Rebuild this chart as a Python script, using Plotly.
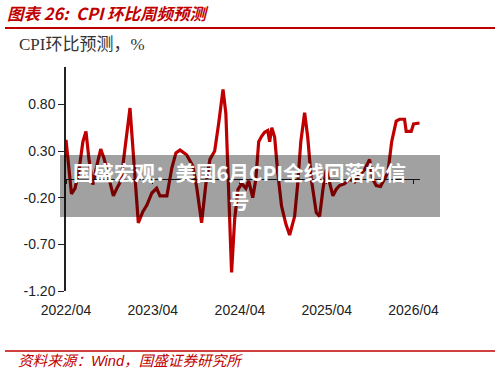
import plotly.graph_objects as go

# ---- data ----
dates = [
    "2022-04-01", "2022-04-24", "2022-05-09", "2022-05-26", "2022-06-11", "2022-06-24",
    "2022-07-07", "2022-07-23", "2022-08-09", "2022-08-25", "2022-09-08", "2022-09-24",
    "2022-10-17", "2022-11-01", "2022-11-18", "2022-12-26", "2023-01-11", "2023-01-30",
    "2023-02-18", "2023-03-07", "2023-03-28", "2023-04-17", "2023-05-01", "2023-05-30",
    "2023-06-20", "2023-07-07", "2023-07-24", "2023-08-21", "2023-09-16", "2023-10-03",
    "2023-10-23", "2023-11-10", "2023-11-27", "2023-12-17", "2024-01-03", "2024-01-21",
    "2024-02-02", "2024-02-14", "2024-02-26", "2024-03-10", "2024-03-24", "2024-04-09",
    "2024-04-26", "2024-05-08", "2024-05-25", "2024-06-07", "2024-06-19", "2024-07-02",
    "2024-07-14", "2024-07-27", "2024-08-04", "2024-08-13", "2024-08-25", "2024-09-07",
    "2024-09-23", "2024-10-11", "2024-10-27", "2024-11-17", "2024-11-30", "2024-12-13",
    "2024-12-29", "2025-01-11", "2025-01-26", "2025-02-16", "2025-03-02", "2025-03-16",
    "2025-03-30", "2025-04-13", "2025-04-27", "2025-05-11", "2025-05-25", "2025-06-15",
    "2025-07-06", "2025-07-27", "2025-08-17", "2025-09-07", "2025-09-28", "2025-10-11",
    "2025-10-26", "2025-11-13", "2025-11-30", "2025-12-14", "2025-12-30", "2026-01-18",
    "2026-02-01", "2026-02-22", "2026-03-01", "2026-03-22", "2026-04-01", "2026-04-26",
]
cpi_mom = [
    0.42, -0.16, -0.10, 0.10, 0.40, 0.51,
    0.20, -0.06, 0.15, 0.32, 0.22, 0.05,
    -0.18, -0.10, -0.02, 0.76, 0.20, -0.47,
    -0.35, -0.28, -0.15, -0.10, -0.18, -0.18,
    0.12, 0.28, 0.31, 0.26, 0.14, -0.10,
    -0.47, -0.05, 0.21, 0.30, 0.60, 0.96,
    0.70, -0.20, -1.00, -0.43, -0.11, -0.05,
    -0.10, -0.02, -0.20, 0.00, 0.40, 0.46,
    0.50, 0.52, 0.40, 0.55, 0.45, 0.07,
    -0.29, -0.48, -0.60, -0.40, -0.05, 0.40,
    0.71, 0.45, 0.00, -0.36, -0.40, -0.11,
    0.10, -0.04, -0.18, -0.11, -0.07, -0.05,
    0.00, -0.03, 0.05, 0.10, 0.21, 0.00,
    -0.07, -0.08, 0.00, 0.07, 0.40, 0.62,
    0.64, 0.64, 0.51, 0.51, 0.59, 0.60,
]
x_ticks = ["2022-04-01", "2023-04-01", "2024-04-01", "2025-04-01", "2026-04-01"]
x_tick_labels = ["2022/04", "2023/04", "2024/04", "2025/04", "2026/04"]
y_ticks = [-1.2, -0.7, -0.2, 0.3, 0.8]
y_tick_labels = ["-1.20", "-0.70", "-0.20", "0.30", "0.80"]

title_text = "图表 26:  CPI 环比周频预测"
subtitle_text = "CPI环比预测，%"
source_text = "资料来源：Wind，国盛证券研究所"
wm_line1 = "国盛宏观：美国6月CPI全线回落的信"
wm_line2 = "号"

RED = "#C00000"
x_range = ["2022-04-01", "2026-04-28"]

fig = go.Figure()
fig.add_trace(go.Scatter(
    x=dates, y=cpi_mom, mode="lines",
    line=dict(color=RED, width=3.2), showlegend=False, hoverinfo="skip",
))
# invisible trace to carry the zero-line axis with tick marks
fig.add_trace(go.Scatter(
    x=[dates[0]], y=[0], xaxis="x2", mode="markers",
    marker=dict(opacity=0), showlegend=False, hoverinfo="skip",
))

fig.update_layout(
    width=500, height=373,
    margin=dict(l=66, r=80, t=67, b=82),
    paper_bgcolor="white", plot_bgcolor="white",
    font=dict(family="Liberation Sans, Arial, sans-serif", size=14, color="#222"),
    xaxis=dict(
        type="date", range=x_range,
        tickvals=x_ticks, ticktext=x_tick_labels,
        showline=False, ticks="", showgrid=False, zeroline=False,
        tickfont=dict(size=14, color="#222"),
        ticklabelstandoff=9,
    ),
    xaxis2=dict(
        type="date", range=x_range, overlaying="x", anchor="free", position=0.5,
        tickvals=x_ticks, showticklabels=False,
        showline=True, linecolor="#222", linewidth=1.2,
        ticks="outside", ticklen=4, tickcolor="#222", tickwidth=1,
        showgrid=False, zeroline=False,
    ),
    yaxis=dict(
        range=[-1.2, 1.2], tickvals=y_ticks, ticktext=y_tick_labels,
        showline=True, linecolor="#222", linewidth=1.5,
        ticks="outside", ticklen=6, tickcolor="#222", tickwidth=1.2,
        showgrid=False, zeroline=False,
        tickfont=dict(size=14, color="#222"),
    ),
)

W, H, L, B = 354.0, 224.0, 66.0, 291.0
def px(x):
    return (x - L) / W
def py(y):
    return (B - y) / H

shapes = [
    dict(type="line", xref="paper", yref="paper", x0=px(5), x1=px(495), y0=py(28), y1=py(28),
         line=dict(color=RED, width=2)),
    dict(type="line", xref="paper", yref="paper", x0=px(5), x1=px(495), y0=py(351), y1=py(351),
         line=dict(color=RED, width=1.5)),
    dict(type="rect", xref="paper", yref="paper", x0=px(60), x1=px(440), y0=py(217), y1=py(155),
         fillcolor="rgba(0,0,0,0.37)", line=dict(width=0), layer="above"),
]
fig.update_layout(shapes=shapes)

annotations = [
    dict(text="<b><i>" + title_text + "</i></b>", xref="paper", yref="paper",
         x=px(5), y=py(13), xanchor="left", yanchor="middle", showarrow=False,
         font=dict(family="Noto Sans CJK SC, sans-serif", size=16.5, color=RED)),
    dict(text=subtitle_text, xref="paper", yref="paper",
         x=px(17), y=py(45), xanchor="left", yanchor="middle", showarrow=False,
         font=dict(family="Liberation Serif, Noto Sans CJK SC, serif", size=17, color="#333")),
    dict(text="<i>" + source_text + "</i>", xref="paper", yref="paper",
         x=px(16), y=py(361), xanchor="left", yanchor="middle", showarrow=False,
         font=dict(family="Liberation Sans, Noto Sans CJK SC, sans-serif", size=14.6, color=RED)),
    dict(text="<b>" + wm_line1 + "</b>", xref="paper", yref="paper",
         x=px(239), y=py(172), xanchor="center", yanchor="middle", showarrow=False,
         font=dict(family="Noto Sans CJK SC, sans-serif", size=20.5, color="white")),
    dict(text="<b>" + wm_line2 + "</b>", xref="paper", yref="paper",
         x=px(239), y=py(200), xanchor="center", yanchor="middle", showarrow=False,
         font=dict(family="Noto Sans CJK SC, sans-serif", size=20.5, color="white")),
]
fig.update_layout(annotations=annotations)

fig.write_html("out.html")
